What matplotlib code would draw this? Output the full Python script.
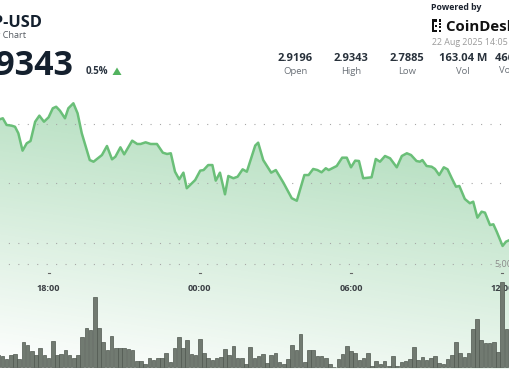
import numpy as np
import matplotlib
matplotlib.use("Agg")
import matplotlib.pyplot as plt
from matplotlib.patches import Polygon, Rectangle
from matplotlib.colors import to_rgb
import matplotlib.transforms as mtransforms

plt.rcParams['font.family'] = ['Open Sans', 'DejaVu Sans']

# ---------------- data ----------------
# price line: minutes relative to 21 Aug 18:00, price in USD
line_minutes = [-125, -116, -109, -100, -88, -80, -72, -62, -52, -43, -32, -22, -11, 0, 10, 18, 27, 39, 47, 59,
                69, 79, 98, 107, 127, 139, 151, 159, 171, 180, 199, 211, 219, 231, 243, 258, 272, 282, 291, 301,
                311, 321, 329, 349, 361, 369, 380, 390, 398, 408, 420, 428, 440, 450, 462, 472, 492, 499, 511, 530,
                541, 559, 579, 591, 609, 619, 630, 640, 650, 660, 667, 686, 699, 710, 720, 730, 739, 749, 769, 779,
                789, 801, 813, 829, 841, 853, 863, 876, 884, 890, 900, 912, 920, 930, 941, 950, 960, 970, 978, 991,
                1003, 1011, 1021, 1031, 1039, 1051, 1059, 1067, 1081, 1089, 1098, 1108]
line_price = [2.9025, 2.9040, 2.9048, 2.8992, 2.8986, 2.8977, 2.8922, 2.8776, 2.8838, 2.8857, 2.9019, 2.9070,
              2.9019, 2.9056, 2.9132, 2.9145, 2.9112, 2.9048, 2.9132, 2.9174, 2.9090, 2.8922, 2.8697, 2.8683,
              2.8739, 2.8815, 2.8703, 2.8725, 2.8804, 2.8745, 2.8860, 2.8832, 2.8832, 2.8846, 2.8832, 2.8832,
              2.8759, 2.8748, 2.8754, 2.8599, 2.8535, 2.8591, 2.8460, 2.8529, 2.8608, 2.8613, 2.8655, 2.8655,
              2.8524, 2.8591, 2.8409, 2.8563, 2.8544, 2.8557, 2.8619, 2.8599, 2.8819, 2.8843, 2.8697, 2.8591,
              2.8613, 2.8507, 2.8376, 2.8355, 2.8571, 2.8571, 2.8622, 2.8613, 2.8594, 2.8628, 2.8613, 2.8647,
              2.8717, 2.8717, 2.8636, 2.8692, 2.8689, 2.8544, 2.8552, 2.8706, 2.8683, 2.8731, 2.8712, 2.8636,
              2.8731, 2.8754, 2.8739, 2.8689, 2.8683, 2.8697, 2.8647, 2.8641, 2.8622, 2.8571, 2.8636, 2.8619,
              2.8544, 2.8473, 2.8479, 2.8370, 2.8334, 2.8347, 2.8213, 2.8263, 2.8255, 2.8151, 2.8157, 2.8095,
              2.7975, 2.8011, 2.8025, 2.8035]

# 10-minute volume bars (millions), first bar at 16:00
bar_start_minute = -120
bar_step = 10
volume_m = [0.60, 0.52, 0.40, 0.60, 0.63, 0.40, 1.21, 1.08, 0.79, 0.57, 0.92, 0.60, 0.42, 1.26, 0.60, 0.61,
            0.82, 0.60, 0.45, 0.57, 1.46, 1.89, 1.81, 3.38, 1.89, 1.23, 0.82, 1.52, 0.94, 0.94, 0.92, 0.89,
            0.84, 0.27, 0.27, 0.16, 0.42, 0.32, 0.42, 0.42, 0.68, 0.24, 0.94, 1.44, 0.92, 1.29, 0.63, 0.57,
            1.37, 0.66, 0.45, 0.32, 0.45, 0.50, 0.89, 0.60, 1.00, 0.45, 0.42, 0.16, 0.99, 0.42,
            0.52, 0.63, 0.19, 0.60, 0.66, 0.24, 0.15, 0.39, 1.07, 0.82, 1.58, 0.23, 0.81, 0.82, 0.53, 0.52,
            0.42, 0.15, 0.00, 0.40, 0.63, 1.03, 0.76, 0.70, 0.36, 0.42, 0.70, 0.05, 0.31, 0.15, 0.31, 0.06,
            0.55, 0.06, 0.26, 0.31, 0.40, 0.95, 0.36, 0.47, 0.32, 0.42, 0.55, 0.19, 0.15, 0.39, 0.60, 1.20,
            0.68, 0.47, 0.70, 1.84, 2.33, 1.31, 1.15, 1.16, 1.21, 0.74, 4.14, 1.84, 0.84]

price_grid = [2.80, 2.85, 2.90]
volume_grid = 5.0
volume_grid_label = "5,000,000"
tick_minutes = [0, 360, 720, 1080]
tick_labels = ["18:00", "00:00", "06:00", "12:00"]

stats_values = ["2.9196", "2.9343", "2.7885", "163.04 M", "466.30 M"]
stats_labels = ["Open", "High", "Low", "Vol", "Vol (USD)"]

# ---------------- figure ----------------
W, H = 510, 369
fig = plt.figure(figsize=(W / 100, H / 100), dpi=100)
fig.patch.set_facecolor('white')

XLIM = (-115.7, 1098.6)
PLIM = (2.6941, 3.0042)
VLIM = (-0.097, 17.82)

ax = fig.add_axes([0, 0, 1, 1])
ax.set_xlim(*XLIM)
ax.set_ylim(*PLIM)
ax.axis('off')

# gradient under the price line
yy, xx = np.mgrid[0:H, 0:W]
alpha = 0.42 * (1 - (yy - 100 - 0.15 * xx) / 270.0)
alpha = np.clip(alpha, 0, 0.5)
rgba = np.zeros((H, W, 4))
rgba[..., :3] = to_rgb('#5cb874')
rgba[..., 3] = alpha
im = ax.imshow(rgba, extent=[XLIM[0], XLIM[1], PLIM[0], PLIM[1]], origin='upper',
               aspect='auto', zorder=1, interpolation='bilinear')
verts = [(line_minutes[0], PLIM[0])] + list(zip(line_minutes, line_price)) + [(line_minutes[-1], PLIM[0])]
clip_poly = Polygon(verts, closed=True, transform=ax.transData, facecolor='none', edgecolor='none')
ax.add_patch(clip_poly)
im.set_clip_path(clip_poly)
ax.set_xlim(*XLIM)
ax.set_ylim(*PLIM)

for g in price_grid:
    ax.axhline(g, color='#a6a6a6', lw=0.8, ls=(1, (1, 7.5)), zorder=2)

ax.plot(line_minutes, line_price, color='#6abf78', lw=1.8, zorder=5,
        solid_joinstyle='round', solid_capstyle='round')

# volume axis
ax2 = fig.add_axes([0, 0, 1, 1])
ax2.set_xlim(*XLIM)
ax2.set_ylim(*VLIM)
ax2.axis('off')
ax2.patch.set_alpha(0)
bar_t = [bar_start_minute + bar_step * i for i in range(len(volume_m))]
ax2.bar(bar_t, volume_m, width=8.4, color='#717a71', edgecolor='#4f574f', linewidth=0.5, zorder=3)
ax2.axhline(volume_grid, color='#a6a6a6', lw=0.8, ls=(1, (1, 7.5)), zorder=2)

# x ticks / labels
trans = mtransforms.blended_transform_factory(ax.transData, fig.transFigure)
for tm, lab in zip(tick_minutes, tick_labels):
    ax.plot([tm - 2.4, tm + 2.4], [1 - 273.3 / H, 1 - 273.3 / H], color='#666666', lw=0.8,
            transform=trans, zorder=6, clip_on=False)
    ax.text(tm, 1 - 290.7 / H, lab, transform=trans, ha='center', va='baseline',
            fontsize=6.6, fontweight='bold', color='#3a3f44', zorder=6)

def px(x, y):
    return x / W, 1 - y / H

fig.text(*px(494, 267.5), volume_grid_label, fontsize=6.5, color='#8a8a8a', ha='left', va='baseline')

# header texts
dark = '#14202e'
fig.text(*px(42, 26.7), "XRP-USD", fontsize=11.8, fontweight='bold', color=dark, ha='right', va='baseline')
fig.text(*px(26, 38.3), "24 Hour Chart", fontsize=6.6, color='#555b62', ha='right', va='baseline')
fig.text(*px(73.5, 75), "2.9343", fontsize=24.5, fontweight='bold', color=dark, ha='right', va='baseline')
fig.text(*px(86, 73.5), "0.5%", fontsize=7.0, fontweight='bold', color='#2a3440', ha='left', va='baseline')
tri = Polygon([px(112.5, 75), px(121.5, 75), px(117, 67.5)], closed=True,
              transform=fig.transFigure, facecolor='#52b35f', edgecolor='none')
fig.patches.append(tri)

fig.text(*px(431.5, 10.3), "Powered by", fontsize=6.3, fontweight='bold', color='#1d2430', ha='left', va='baseline')
# logo icon
for (x0, y0, w, h) in [(432, 19.5, 2.0, 12.2), (432, 19.5, 5.5, 2.0), (432, 29.7, 5.5, 2.0),
                       (439.0, 19.5, 2.0, 2.0), (439.0, 29.7, 2.0, 2.0),
                       (439.0, 23.0, 2.0, 2.0), (439.0, 26.4, 2.0, 2.0), (435.5, 24.7, 2.0, 2.0)]:
    r = Rectangle(px(x0, y0 + h), w / W, h / H, transform=fig.transFigure, facecolor='#111111', edgecolor='none')
    fig.patches.append(r)
fig.text(*px(446.5, 30.9), "CoinDesk Indices", fontsize=10.8, fontweight='bold', color='#111111',
         ha='left', va='baseline')
fig.text(*px(432.5, 45.3), "22 Aug 2025 14:05", fontsize=6.4, color='#9a9a9a', ha='left', va='baseline')

stat_centers = [295, 351, 406.7, 463, 519]
for cx, v, lab in zip(stat_centers, stats_values, stats_labels):
    fig.text(*px(cx, 60.7), v, fontsize=8.0, fontweight='bold', color='#28313b', ha='center', va='baseline')
    fig.text(*px(cx, 73.5), lab, fontsize=6.8, color='#6b7178', ha='center', va='baseline')

fig.savefig("out.png", dpi=100, facecolor='white')
